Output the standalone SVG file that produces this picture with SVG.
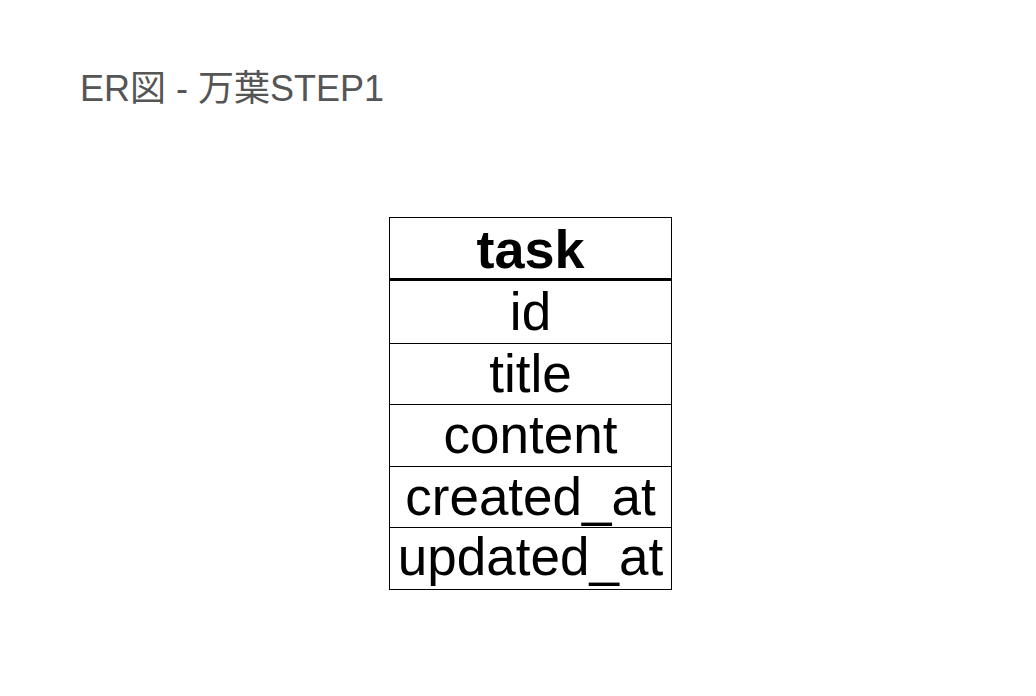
<svg xmlns="http://www.w3.org/2000/svg" width="1036" height="696" viewBox="0 0 1036 696">
<style>
.title{font-family:"Liberation Sans","Noto Sans CJK JP",sans-serif;font-size:36px;fill:#555555}
.cell{fill:#ffffff;stroke:#000000;stroke-width:1}
.hdr{font-family:"Liberation Sans",sans-serif;font-size:54px;font-weight:bold;fill:#000000;text-anchor:middle}
.fld{font-family:"Liberation Sans",sans-serif;font-size:53px;fill:#000000;text-anchor:middle}
</style>
<rect x="0" y="0" width="1036" height="696" fill="#ffffff"/>
<text class="title" x="80" y="101">ER図 - 万葉STEP1</text>
<g id="task">
<rect class="cell" x="389.5" y="217.5" width="282" height="372"/>
<line x1="389.5" y1="279.5" x2="671.5" y2="279.5" stroke="#000" stroke-width="3"/>
<line x1="389.5" y1="343.5" x2="671.5" y2="343.5" stroke="#000" stroke-width="1"/>
<line x1="389.5" y1="404.5" x2="671.5" y2="404.5" stroke="#000" stroke-width="1"/>
<line x1="389.5" y1="466.5" x2="671.5" y2="466.5" stroke="#000" stroke-width="1"/>
<line x1="389.5" y1="527.5" x2="671.5" y2="527.5" stroke="#000" stroke-width="1"/>
<text class="hdr" x="530.5" y="268">task</text>
<text class="fld" x="530.5" y="330">id</text>
<text class="fld" x="530.5" y="392">title</text>
<text class="fld" x="530.5" y="453">content</text>
<text class="fld" x="530.5" y="515">created_at</text>
<text class="fld" x="530.5" y="575">updated_at</text>
</g>
<g id="connectors"></g>
</svg>
